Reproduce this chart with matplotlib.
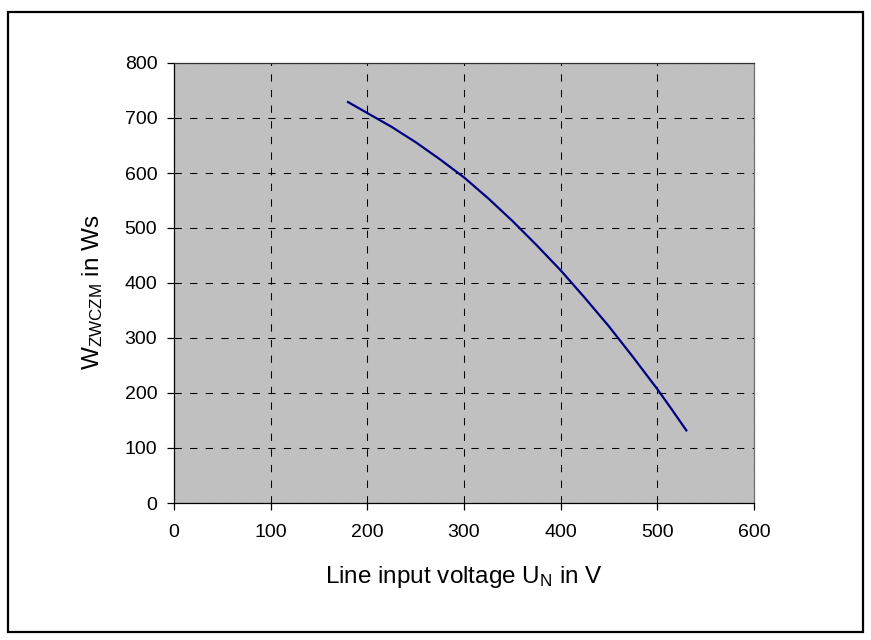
import matplotlib
matplotlib.use("Agg")
import matplotlib.pyplot as plt
from matplotlib.patches import Rectangle

plt.rcParams['font.family'] = ['Liberation Sans', 'DejaVu Sans']
plt.rcParams['mathtext.fontset'] = 'custom'
plt.rcParams['mathtext.rm'] = 'Liberation Sans'
plt.rcParams['mathtext.it'] = 'Liberation Sans:italic'

# Data
voltage = [180, 200, 225, 250, 275, 300, 325, 350, 375, 400, 425, 450, 475, 500, 515, 530]
energy = [729, 709, 684, 656, 625, 592, 554, 513, 469, 423, 373, 321, 265, 207, 170, 132]

x_ticks = [0, 100, 200, 300, 400, 500, 600]
y_ticks = [0, 100, 200, 300, 400, 500, 600, 700, 800]

W, H = 871, 640
fig = plt.figure(figsize=(W / 100, H / 100), dpi=100)
fig.patch.set_facecolor('white')

# outer frame
fig.patches.append(Rectangle((8 / W, 1 - 632 / H), (863 - 8) / W, (632 - 12) / H,
                             transform=fig.transFigure, fill=False,
                             edgecolor='black', linewidth=1.6, zorder=10))

ax = fig.add_axes([174 / W, 1 - 503 / H, (754 - 174) / W, (503 - 63) / H])
ax.set_facecolor('#c0c0c0')

ax.plot(voltage, energy, color='#000080', linewidth=1.6, zorder=3,
        solid_joinstyle='round')

ax.set_xlim(0, 600)
ax.set_ylim(0, 800)
ax.set_xticks(x_ticks)
ax.set_yticks(y_ticks)
ax.set_xticklabels([str(v) for v in x_ticks])
ax.set_yticklabels([str(v) for v in y_ticks])

ax.grid(True, color='black', linestyle=(0, (7, 8)), linewidth=0.75, zorder=1)
ax.set_axisbelow(True)

for s in ax.spines.values():
    s.set_color('black')
    s.set_linewidth(0.9)
ax.spines['right'].set_color('#707070')
ax.spines['top'].set_color('#303030')

ax.tick_params(axis='both', direction='out', length=5, width=0.9, color='black',
               labelsize=14)
ax.tick_params(axis='x', pad=10)
ax.tick_params(axis='y', pad=7)

ax.set_xlabel(r'Line input voltage U$_{\mathrm{N}}$ in V', fontsize=17.5)
ax.set_ylabel(r'W$_{\mathrm{ZWCZM}}$ in Ws', fontsize=17.5)
ax.xaxis.label.set_va('center')
ax.yaxis.label.set_va('center')
ax.xaxis.set_label_coords(0.5, (503 - 577) / 440)
ax.yaxis.set_label_coords((93 - 174) / 580, 0.48)

fig.savefig('out.png', dpi=100)
